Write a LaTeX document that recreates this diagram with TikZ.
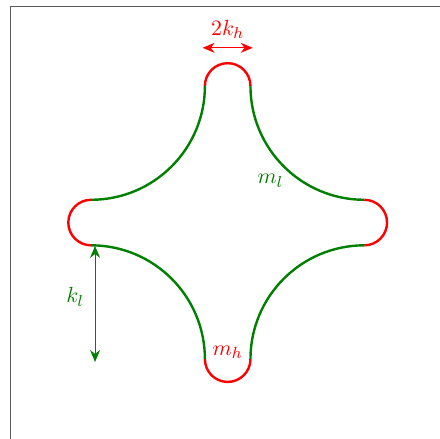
\documentclass[tikz,border=0pt]{standalone}
\usepackage{amsmath}
\usepackage{xcolor}
\usepackage{tikz}
\usetikzlibrary{arrows.meta, positioning}

\definecolor{arcgreen}{RGB}{0,128,0}

\begin{document}
\begin{tikzpicture}[
  every node/.style={font=\fontsize{11}{13}\selectfont},
  tip/.style={red, line width=1.2pt},
  side/.style={arcgreen, line width=1.2pt},
  dim/.style={{Stealth[length=6pt, width=5pt]}-{Stealth[length=6pt, width=5pt]}, line width=0.55pt},
  frame/.style={black!65, line width=0.6pt},
]
  \useasboundingbox (-4.0,-3.80) rectangle (3.73,3.91);

  % frame
  \draw[frame] (3.73,3.8) -- (-3.82,3.8) -- (-3.82,-3.8);

  % tips and sides
  \draw[tip] (-0.4,2.4) arc[start angle=180, end angle=0, radius=0.4];
  \draw[side] (0.4,2.4) arc[start angle=180, end angle=270, radius=2];
  \draw[tip] (2.4,0.4) arc[start angle=90, end angle=-90, radius=0.4];
  \draw[side] (2.4,-0.4) arc[start angle=90, end angle=180, radius=2];
  \draw[tip] (0.4,-2.4) arc[start angle=0, end angle=-180, radius=0.4];
  \draw[side] (-0.4,-2.4) arc[start angle=0, end angle=90, radius=2];
  \draw[tip] (-2.4,-0.4) arc[start angle=-90, end angle=-270, radius=0.4];
  \draw[side] (-2.4,0.4) arc[start angle=-90, end angle=0, radius=2];

  % 2k_h
  \coordinate (kha) at (-0.44,3.07);
  \coordinate (khb) at (0.44,3.07);
  \draw[dim, red] (kha) -- (khb);
  \node[red] (kh) at (0,3.39) {$2k_h$};

  % k_l
  \coordinate (kla) at (-2.33,-0.41);
  \coordinate (klb) at (-2.33,-2.45);
  \draw[dim, arcgreen] (kla) -- (klb);
  \node[arcgreen] (kl) at (-2.68,-1.31) {$k_l$};

  \node[arcgreen] (ml) at (0.75,0.73) {$m_l$};
  \node[red] (mh) at (0,-2.28) {$m_h$};
\end{tikzpicture}
\end{document}
